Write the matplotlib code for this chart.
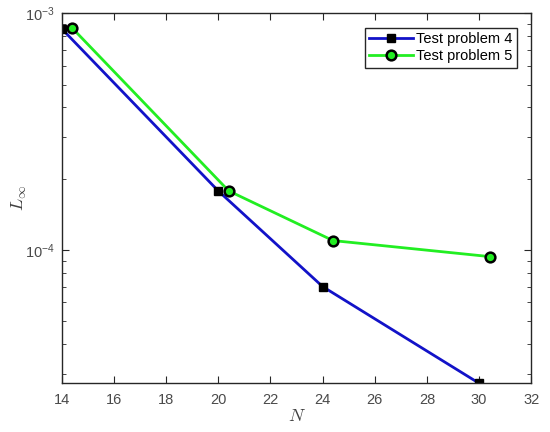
import matplotlib
matplotlib.use('Agg')
import matplotlib.pyplot as plt
from matplotlib.ticker import LogLocator, NullFormatter

plt.rcParams['font.family'] = ['Liberation Sans', 'DejaVu Sans']
plt.rcParams['mathtext.fontset'] = 'cm'

# données
n_p4 = [14, 20, 24, 30]
err_p4 = [8.61e-4, 1.776e-4, 7.0e-5, 2.73e-5]
n_p5 = [14.4, 20.4, 24.4, 30.4]
err_p5 = [8.67e-4, 1.776e-4, 1.095e-4, 9.37e-5]
x_ticks = [14, 16, 18, 20, 22, 24, 26, 28, 30, 32]

fig = plt.figure(figsize=(5.5, 4.32), dpi=100)
ax = fig.add_axes([61.7 / 550, 1 - 383.3 / 432, (531.3 - 61.7) / 550, (383.3 - 13.3) / 432])

ax.plot(n_p4, err_p4, color='#1212c8', lw=2, marker='s', ms=5.5,
        mfc='black', mec='black', label='Test problem 4')
ax.plot(n_p5, err_p5, color='#22ee22', lw=2, marker='o', ms=7,
        mfc='#22ee22', mec='black', mew=1.8, label='Test problem 5')

ax.set_yscale('log')
ax.set_xlim(14, 32)
ax.set_ylim(2.73e-5, 1e-3)
ax.set_xticks(x_ticks)
ax.yaxis.set_major_locator(LogLocator(base=10, numticks=10))
ax.yaxis.set_minor_locator(LogLocator(base=10, subs=range(2, 10), numticks=20))
ax.yaxis.set_minor_formatter(NullFormatter())

for s in ax.spines.values():
    s.set_color('#262626')
    s.set_linewidth(1.0)
ax.tick_params(which='both', direction='in', top=True, right=True,
               colors='#262626', labelcolor='#4a4a4a', labelsize=10.5)
ax.tick_params(axis='x', which='major', length=5, pad=7)
ax.tick_params(axis='y', which='major', length=5, pad=5)
ax.tick_params(which='minor', length=3)

ax.set_xlabel('$N$', fontsize=13, color='#404040', labelpad=1)
ax.set_ylabel(r'$L_\infty$', fontsize=13, color='#404040', labelpad=-3)

leg = ax.legend(loc='upper right', fontsize=10.5, fancybox=False, framealpha=1,
                edgecolor='#262626', handlelength=3, borderpad=0.3,
                labelspacing=0.2, handletextpad=0.2, borderaxespad=1.0)
leg.get_frame().set_linewidth(1.0)

fig.savefig('out.png', dpi=100)
